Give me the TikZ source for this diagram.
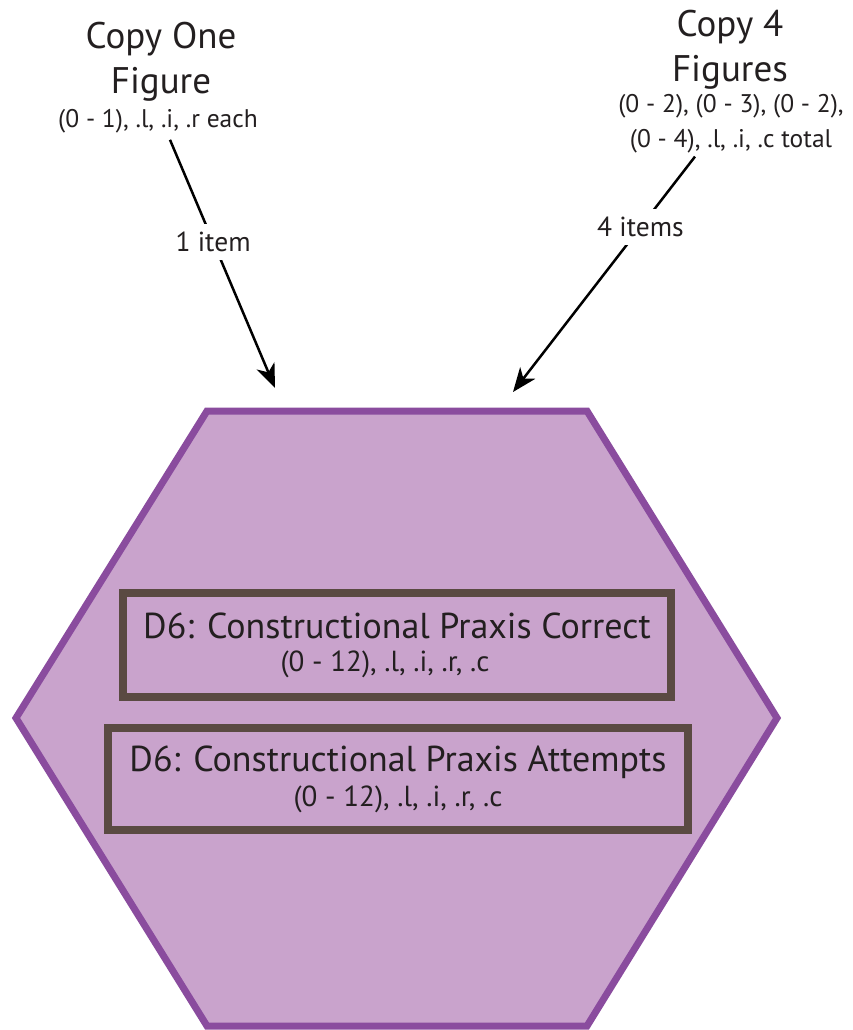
\documentclass[tikz,border=0pt]{standalone}
\usepackage{fontspec}
\setmainfont{PT Sans}
\usetikzlibrary{arrows.meta,positioning}
\definecolor{hexfill}{HTML}{C9A3CC}
\definecolor{hexline}{HTML}{8A4C9E}
\definecolor{boxline}{HTML}{5A4A42}
\definecolor{inkblack}{HTML}{231F20}

\begin{document}
\begin{tikzpicture}[x=1pt,y=-1pt,
  title/.style={align=center, text=inkblack, font=\fontsize{37}{45}\selectfont, inner sep=0pt},
  subtitle/.style={align=center, text=inkblack, font=\fontsize{25.5}{35}\selectfont, inner sep=0pt},
  scorebox/.style={draw=boxline, line width=7.5pt, minimum width=548pt, minimum height=104pt, align=center, text=inkblack, font=\fontsize{29}{33}\selectfont},
  itemlabel/.style={fill=white, text=inkblack, font=\fontsize{27.5}{30}\selectfont, inner sep=8pt},
  feed/.style={line width=2.5pt, -{Stealth[length=24pt,width=19pt,inset=7pt]}}]
\useasboundingbox (0,0) rectangle (852,1030);
\draw[hexline, fill=hexfill, line width=7pt] (207,411) -- (587,411) -- (777,718) -- (587,1026) -- (207,1026) -- (16,718) -- cycle;
\node[scorebox] (correct) at (397,645) {{\fontsize{36}{44}\selectfont D6: Constructional Praxis Correct}\\\hspace*{-24pt}(0 - 12), .l, .i, .r, .c};
\node[scorebox, minimum width=580pt, minimum height=102pt] (attempts) at (398,779) {{\fontsize{36}{44}\selectfont D6: Constructional Praxis Attempts}\\[2pt](0 - 12), .l, .i, .r, .c};
\node[title] (copyone) at (161,62) {Copy One\\Figure};
\node[subtitle, anchor=base] (copyonesub) at (158,128) {(0 - 1), .l, .i, .r each};
\node[title] (copyfour) at (730,50) {Copy 4\\Figures};
\node[subtitle] (copyfoursub) at (731,124) {(0 - 2), (0 - 3), (0 - 2),\\(0 - 4), .l, .i, .c total};
\coordinate (onein) at (275,388);
\coordinate (fourin) at (513,392);
\draw[feed] ([xshift=12pt,yshift=-6pt]copyonesub.south) -- node[itemlabel, pos=0.41] {1 item} (onein);
\draw[feed] ([xshift=-36pt,yshift=-3pt]copyfoursub.south) -- node[itemlabel, pos=0.3] {4 items} (fourin);
\end{tikzpicture}
\end{document}
